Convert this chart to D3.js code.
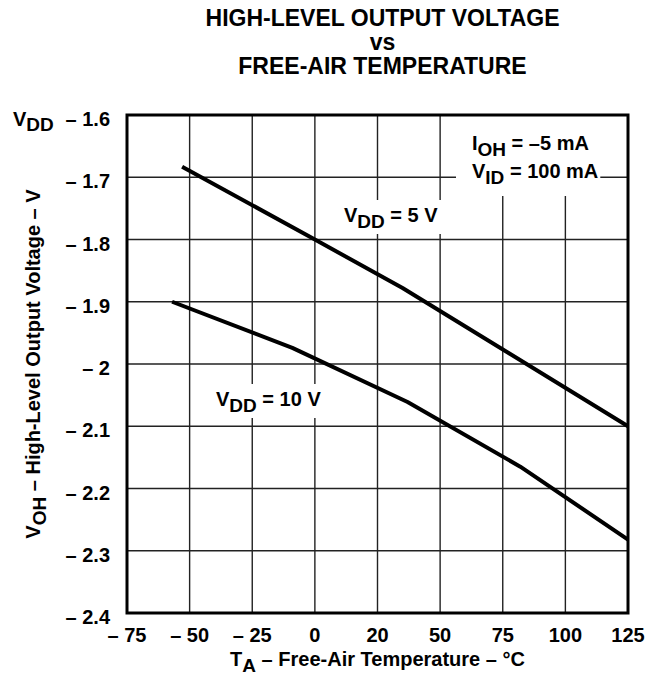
<!DOCTYPE html>
<html>
<head>
<meta charset="utf-8">
<title>High-level output voltage vs free-air temperature</title>
<script src="https://d3js.org/d3.v7.min.js"></script>
<style>
  body { margin: 0; background: #fff; }
  svg { display: block; }
  text { font-family: "Liberation Sans", Arial, sans-serif; font-weight: bold; fill: #000; }
  .grid line { stroke: #222; stroke-width: 1.4; }
  .curve { fill: none; stroke: #000; stroke-width: 4; stroke-linejoin: round; }
</style>
</head>
<body>
<svg id="chart" width="653" height="675"></svg>
<script>
// x positions of the ticks (the chart labels the 25 position as "20")
var tempTicks  = [-75, -50, -25, 0, 25, 50, 75, 100, 125];
var tempLabels = ["\u2013 75", "\u2013 50", "\u2013 25", "0", "20", "50", "75", "100", "125"];
var voltTicks  = [-1.6, -1.7, -1.8, -1.9, -2.0, -2.1, -2.2, -2.3, -2.4];
var voltLabels = ["\u2013 1.6", "\u2013 1.7", "\u2013 1.8", "\u2013 1.9", "\u2013 2", "\u2013 2.1", "\u2013 2.2", "\u2013 2.3", "\u2013 2.4"];

// curves
var vdd5Temp  = [-53, 0, 35, 125];
var vdd5Volt  = [-1.683, -1.800, -1.878, -2.100];
var vdd10Temp = [-57, -9, 37, 82, 125];
var vdd10Volt = [-1.900, -1.974, -2.061, -2.165, -2.282];

var margin = {left: 127, top: 115, right: 25, bottom: 62};
var width  = 653 - margin.left - margin.right;
var height = 675 - margin.top - margin.bottom;

var svg = d3.select("#chart");
var g = svg.append("g").attr("transform", "translate(" + margin.left + "," + margin.top + ")");

var x = d3.scaleLinear().domain([-75, 125]).range([0, width]);
var y = d3.scaleLinear().domain([-1.6, -2.4]).range([0, height]);

// grid
var grid = g.append("g").attr("class", "grid");
grid.selectAll(".gx").data(tempTicks.slice(1, -1)).enter().append("line")
  .attr("x1", function(d){ return x(d); }).attr("x2", function(d){ return x(d); })
  .attr("y1", 0).attr("y2", height);
grid.selectAll(".gy").data(voltTicks.slice(1, -1)).enter().append("line")
  .attr("y1", function(d){ return y(d); }).attr("y2", function(d){ return y(d); })
  .attr("x1", 0).attr("x2", width);

var masks = g.append("g");   // white patches that hide the grid behind notes

// frame
g.append("rect").attr("x", 0).attr("y", 0).attr("width", width).attr("height", height)
  .attr("fill", "none").attr("stroke", "#000").attr("stroke-width", 3);

// curves
var line = d3.line().x(function(d){ return x(d[0]); }).y(function(d){ return y(d[1]); });
g.append("path").attr("class", "curve").attr("d", line(d3.zip(vdd5Temp, vdd5Volt)));
g.append("path").attr("class", "curve").attr("d", line(d3.zip(vdd10Temp, vdd10Volt)));

// x tick labels
g.selectAll(".xl").data(tempTicks).enter().append("text")
  .attr("x", function(d){ return x(d); }).attr("y", height + 29)
  .attr("text-anchor", "middle").attr("font-size", 20)
  .text(function(d, i){ return tempLabels[i]; });

// y tick labels
g.selectAll(".yl").data(voltTicks).enter().append("text")
  .attr("x", -17).attr("y", function(d){ return y(d) + 11; })
  .attr("text-anchor", "end").attr("font-size", 20)
  .text(function(d, i){ return voltLabels[i]; });
var vdd = g.append("text").attr("x", -114).attr("y", y(-1.6) + 11).attr("font-size", 20);
vdd.append("tspan").text("V");
vdd.append("tspan").attr("dy", 5).attr("font-size", 19).text("DD");

// helper for "A_sub rest" labels
function subLabel(parent, px, py, main, sub, rest, size, anchor) {
  var t = parent.append("text").attr("x", px).attr("y", py).attr("font-size", size)
    .attr("text-anchor", anchor || "start");
  t.append("tspan").text(main);
  t.append("tspan").attr("dy", 6).attr("font-size", size - 1).text(sub);
  t.append("tspan").attr("dy", -6).text(rest);
  return t;
}
function mask(t, padL, padR, padT, padB, toTop) {
  var b = t.node().getBBox();
  var top = toTop ? 0 : b.y - padT;
  masks.append("rect").attr("x", b.x - padL).attr("y", top)
    .attr("width", b.width + padL + padR).attr("height", b.y + b.height + padB - top)
    .attr("fill", "#fff");
}

// notes
subLabel(g, 345, 35, "I", "OH", " = \u20135 mA", 20);
var n2 = subLabel(g, 345, 63, "V", "ID", " = 100 mA", 20);
mask(n2, 16, 2, 0, 8, true);
var n3 = subLabel(g, 217, 107, "V", "DD", " = 5 V", 20);
mask(n3, 4, 6, 4, 2);
var n4 = subLabel(g, 89, 291, "V", "DD", " = 10 V", 20);
mask(n4, 6, 3, 4, 2);

// titles
var titles = ["HIGH-LEVEL OUTPUT VOLTAGE", "vs", "FREE-AIR TEMPERATURE"];
svg.selectAll(".title").data(titles).enter().append("text")
  .attr("x", margin.left + width / 2 + 5).attr("y", function(d, i){ return 26 + i * 24; })
  .attr("text-anchor", "middle").attr("font-size", 23)
  .text(function(d){ return d; });

subLabel(svg, margin.left + width / 2, 666, "T", "A", " \u2013 Free-Air Temperature \u2013 \u00b0C", 20, "middle");

var yt = subLabel(svg, 0, 0, "V", "OH", "  \u2013 High-Level Output Voltage \u2013 V", 20, "middle");
yt.attr("transform", "translate(40," + (margin.top + height / 2) + ") rotate(-90)");
</script>
</body>
</html>
